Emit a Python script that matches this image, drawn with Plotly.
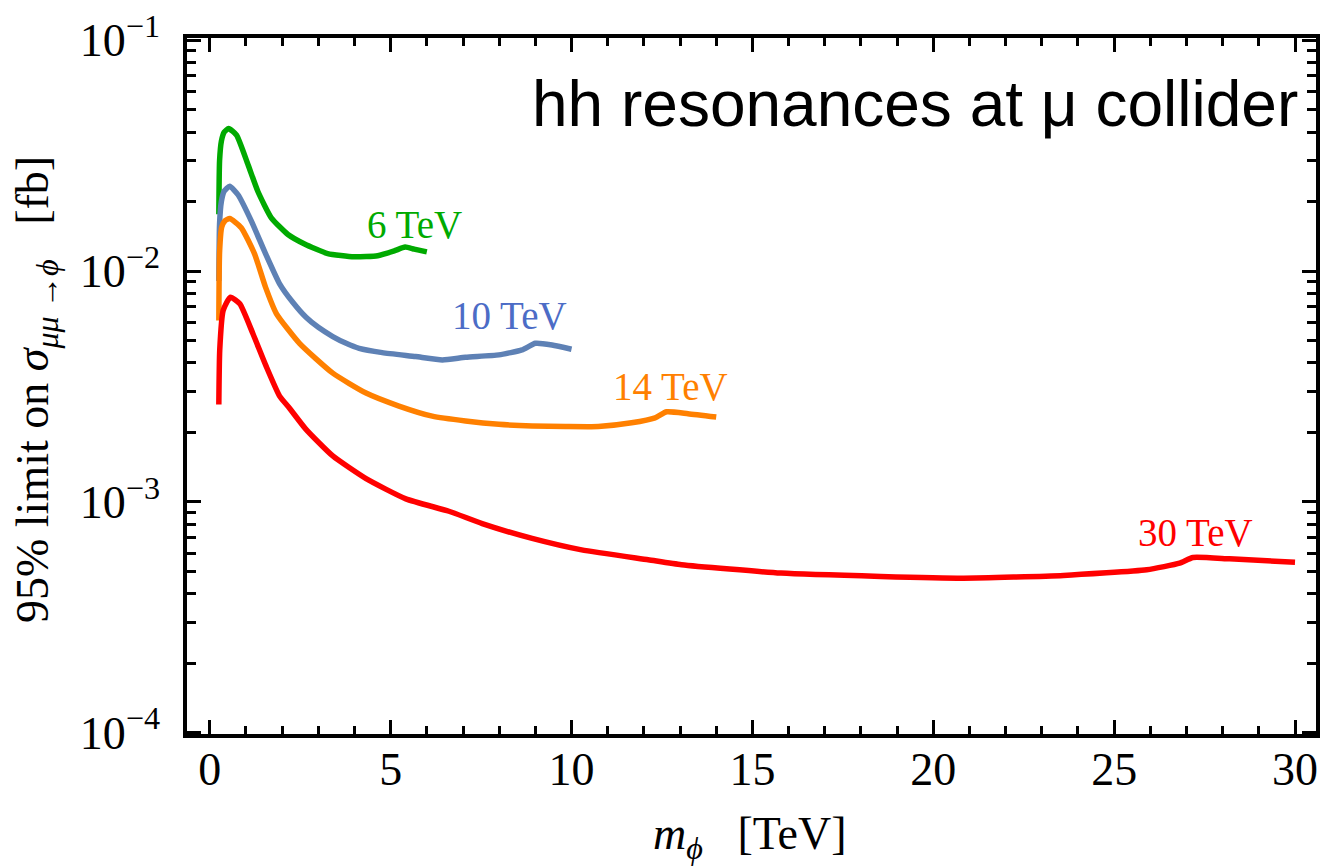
import math
import plotly.graph_objects as go

# Mass points (TeV) and 95% CL limits on sigma(mu mu -> phi) (fb) per collider energy
mass_6tev = [0.25, 0.27, 0.32, 0.40, 0.52, 0.74, 1.06, 1.33, 1.70, 2.16, 2.62, 3.26,
             3.99, 4.64, 5.10, 5.40, 5.65, 6.0]
limit_6tev = [0.0176, 0.030, 0.0365, 0.0400, 0.0414, 0.0388, 0.0288, 0.0221, 0.0170,
              0.0144, 0.0131, 0.0119, 0.01152, 0.01164, 0.01222, 0.0127, 0.01244, 0.0121]

mass_10tev = [0.25, 0.27, 0.32, 0.40, 0.55, 0.78, 1.15, 1.52, 1.93, 2.30, 2.66, 3.00,
              3.40, 3.77, 4.13, 4.77, 5.69, 6.43, 7.07, 7.99, 8.63, 9.0, 9.46, 10.0]
limit_10tev = [0.00906, 0.0160, 0.0200, 0.0222, 0.0233, 0.0214, 0.01645, 0.0121, 0.0088,
               0.0073, 0.0063, 0.0057, 0.0052, 0.00486, 0.00462, 0.00443, 0.00426,
               0.00412, 0.00423, 0.00433, 0.00455, 0.00486, 0.00478, 0.00458]

mass_14tev = [0.25, 0.27, 0.33, 0.42, 0.55, 0.87, 1.24, 1.54, 1.84, 2.48, 3.40, 4.32,
              5.23, 6.15, 7.07, 7.99, 8.91, 9.83, 10.74, 11.66, 12.31, 12.63, 13.22, 14.0]
limit_14tev = [0.0061, 0.0120, 0.0155, 0.0165, 0.0169, 0.0154, 0.01183, 0.00851, 0.00654,
               0.00486, 0.00361, 0.00296, 0.00260, 0.00235, 0.00224, 0.002166, 0.00213,
               0.00212, 0.00212, 0.00220, 0.00231, 0.002455, 0.00241, 0.00233]

mass_30tev = [0.25, 0.275, 0.37, 0.57, 0.83, 1.19, 1.56, 1.93, 2.20, 2.66, 3.40, 4.32,
              5.42, 6.61, 7.53, 8.91, 10.28, 12.12, 13.04, 15.79, 18.55, 20.84, 23.60,
              25.90, 26.81, 27.18, 28.19, 30.0]
limit_30tev = [0.00264, 0.00455, 0.00675, 0.0077, 0.00721, 0.00536, 0.00386, 0.00287,
               0.00255, 0.00206, 0.00158, 0.00126, 0.00103, 0.00091, 0.000805, 0.000694,
               0.000619, 0.000561, 0.000534, 0.000491, 0.000475, 0.000467, 0.00048,
               0.000508, 0.000542, 0.000574, 0.000566, 0.000547]

series_names = ["6 TeV", "10 TeV", "14 TeV", "30 TeV"]
line_colors = ["#00AA00", "#5E81B5", "#FF8000", "#FF0000"]
label_colors = ["#00AA00", "#4C6CC6", "#FF8000", "#FF0000"]
# label anchor positions (TeV, fb)
label_x = [5.65, 8.29, 12.74, 27.26]
label_y = [0.0159, 0.0064, 0.003175, 0.000738]

x_major_ticks = [0, 5, 10, 15, 20, 25, 30]
y_major_ticks = [1e-4, 1e-3, 1e-2, 1e-1]
y_major_text = ["10<sup>\u22124</sup>", "10<sup>\u22123</sup>",
                "10<sup>\u22122</sup>", "10<sup>\u22121</sup>"]
y_minor_ticks = [k * 10.0 ** e for e in (-4, -3, -2) for k in range(2, 10)]

SERIF = "Liberation Serif, Times New Roman, serif"
SANS = "Liberation Sans, Arial, Helvetica, sans-serif"

fig = go.Figure()
for xs, ys, name, col in zip([mass_6tev, mass_10tev, mass_14tev, mass_30tev],
                             [limit_6tev, limit_10tev, limit_14tev, limit_30tev],
                             series_names, line_colors):
    fig.add_trace(go.Scatter(x=xs, y=ys, mode="lines", name=name,
                             line=dict(color=col, width=5.5, shape="spline", smoothing=0.5),
                             showlegend=False))

for name, col, lx, ly in zip(series_names, label_colors, label_x, label_y):
    fig.add_annotation(x=lx, y=math.log10(ly), xref="x", yref="y", text=name,
                       showarrow=False, xanchor="center", yanchor="middle",
                       font=dict(family=SERIF, size=39, color=col))

fig.add_annotation(x=0.9859, y=0.905, xref="paper", yref="paper",
                   text="hh resonances at \u03bc collider", showarrow=False,
                   xanchor="right", yanchor="middle",
                   font=dict(family=SANS, size=64, color="black"))

fig.add_annotation(x=-0.1333, y=0.495, xref="paper", yref="paper",
                   text="95% limit on <i>\u03c3</i><sub><i>\u03bc\u03bc</i> \u2192<i>\u03d5</i></sub>\u00a0\u00a0 [fb]",
                   textangle=-90, showarrow=False, xanchor="center", yanchor="middle",
                   font=dict(family=SERIF, size=46, color="black"))

fig.add_annotation(x=0.4987, y=-0.148, xref="paper", yref="paper",
                   text="<i>m</i><sub><i>\u03d5</i></sub>\u00a0\u00a0 [TeV]",
                   showarrow=False, xanchor="center", yanchor="middle",
                   font=dict(family=SERIF, size=46, color="black"))

axis_common = dict(showline=True, linecolor="black", linewidth=3.5, mirror="allticks",
                   ticks="inside", ticklen=14, tickwidth=3, tickcolor="black",
                   showgrid=False, zeroline=False,
                   tickfont=dict(family=SERIF, size=46, color="black"))

fig.update_xaxes(range=[-0.63, 30.58], tickmode="array", tickvals=x_major_ticks,
                 ticktext=[str(v) for v in x_major_ticks], ticklabelstandoff=-8,
                 minor=dict(ticks="inside", ticklen=8, tickwidth=2.5, tickcolor="black",
                            dtick=1, tick0=0, showgrid=False),
                 **axis_common)
fig.update_yaxes(type="log", range=[-4.006, -0.9905], tickmode="array",
                 tickvals=y_major_ticks, ticktext=y_major_text, ticklabelstandoff=14,
                 minor=dict(ticks="inside", ticklen=9, tickwidth=2.5, tickcolor="black",
                            tickvals=y_minor_ticks, showgrid=False),
                 **axis_common)

fig.update_layout(width=1328, height=868, margin=dict(l=187, r=8, t=32, b=134),
                  paper_bgcolor="white", plot_bgcolor="white")

fig.write_html("out.html")
